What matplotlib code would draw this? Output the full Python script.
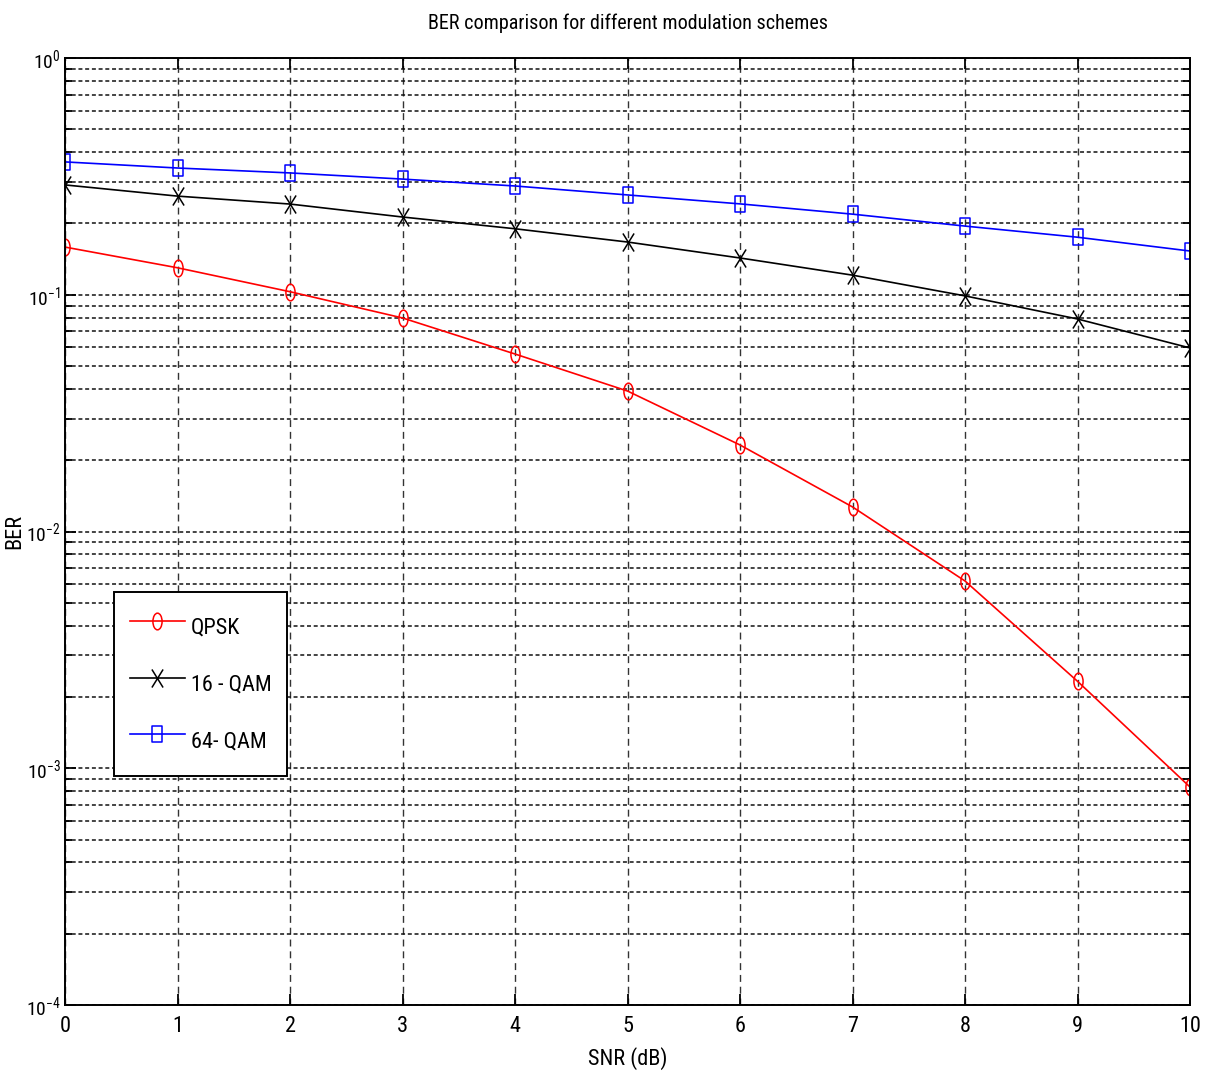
import matplotlib
matplotlib.use("Agg")
import matplotlib.pyplot as plt
from matplotlib import font_manager
from matplotlib.path import Path
from matplotlib.transforms import Affine2D
from matplotlib.ticker import LogLocator, NullFormatter, FixedLocator

names = {f.name for f in font_manager.fontManager.ttflist}
fam = "Liberation Sans"
for cand in ["Liberation Sans Narrow", "Arial Narrow", "Roboto Condensed", "Archivo Narrow",
             "Arimo Narrow", "Barlow Semi Condensed"]:
    if cand in names:
        fam = cand
        break
plt.rcParams['font.family'] = [fam, 'DejaVu Sans']
plt.rcParams['mathtext.fontset'] = 'custom'
plt.rcParams['mathtext.rm'] = fam
plt.rcParams['mathtext.it'] = fam
plt.rcParams['mathtext.bf'] = fam
plt.rcParams['axes.unicode_minus'] = False

snr = [0, 1, 2, 3, 4, 5, 6, 7, 8, 9, 10]
ber_qpsk = [0.159, 0.130, 0.103, 0.0798, 0.0562, 0.0392, 0.0232, 0.0127, 0.00618, 0.00233, 0.000833]
ber_16qam = [0.291, 0.261, 0.2416, 0.213, 0.190, 0.167, 0.143, 0.121, 0.0989, 0.079, 0.0596]
ber_64qam = [0.364, 0.343, 0.327, 0.308, 0.288, 0.264, 0.242, 0.219, 0.195, 0.175, 0.153]
labels = ["QPSK", "16 - QAM", "64- QAM"]

# tall, narrow marker shapes (the reference image is stretched vertically)
m_circle = Path.unit_circle().transformed(Affine2D().scale(0.55, 1.0))
m_square = Path([(-0.55, -1), (0.55, -1), (0.55, 1), (-0.55, 1), (-0.55, -1)],
                [Path.MOVETO, Path.LINETO, Path.LINETO, Path.LINETO, Path.CLOSEPOLY])
m_x = Path([(-0.62, -1), (0.62, 1), (-0.62, 1), (0.62, -1)],
           [Path.MOVETO, Path.LINETO, Path.MOVETO, Path.LINETO])

fig = plt.figure(figsize=(12.05, 10.76), dpi=100)
ax = fig.add_axes([65/1205, 1-1005/1076, 1125/1205, 947/1076])

ax.semilogy(snr, ber_qpsk, color='red', lw=1.2, marker=m_circle, ms=12, mfc='none', mew=1.1, label=labels[0])
ax.semilogy(snr, ber_16qam, color='black', lw=1.2, marker=m_x, ms=13, mew=1.1, label=labels[1])
ax.semilogy(snr, ber_64qam, color='blue', lw=1.2, marker=m_square, ms=12, mfc='none', mew=1.1, label=labels[2])

ax.set_xlim(0, 10)
ax.set_ylim(1e-4, 1)
ax.xaxis.set_major_locator(FixedLocator(range(0, 11)))
ax.yaxis.set_major_locator(LogLocator(base=10, numticks=10))
ax.yaxis.set_minor_locator(LogLocator(base=10, subs=range(2, 10), numticks=20))
ax.yaxis.set_minor_formatter(NullFormatter())

ax.grid(True, which='major', axis='x', color='#333333', linestyle=(0, (5, 3.5)), lw=1.0)
ax.grid(True, which='both', axis='y', color='#111111', linestyle=(0, (2.6, 1.8)), lw=1.1)

ax.tick_params(which='both', direction='in', top=True, right=True, width=1.3)
ax.tick_params(which='major', length=8)
ax.tick_params(which='minor', length=5)
ax.tick_params(axis='x', pad=8, labelsize=16)
ax.tick_params(axis='y', pad=3, labelsize=14)
for s in ax.spines.values():
    s.set_linewidth(1.4)

ax.set_title("BER comparison for different modulation schemes", fontsize=14.5, y=1.031, pad=0)
ax.set_xlabel("SNR (dB)", fontsize=16)
ax.xaxis.set_label_coords(0.5, -0.056)
ax.xaxis.label.set_va('center')
ax.set_ylabel("BER", fontsize=16)
ax.yaxis.set_label_coords(-0.045, 0.5)
ax.yaxis.label.set_va('center')

leg = ax.legend(loc='upper left', bbox_to_anchor=(49/1125, 413/947), fontsize=16,
                fancybox=False, framealpha=1, edgecolor='black', borderpad=0.7,
                labelspacing=0.82, handleheight=2.3, handlelength=2.5, handletextpad=0.25,
                borderaxespad=0)
leg.get_frame().set_linewidth(1.4)

fig.savefig("out.png", dpi=100)
